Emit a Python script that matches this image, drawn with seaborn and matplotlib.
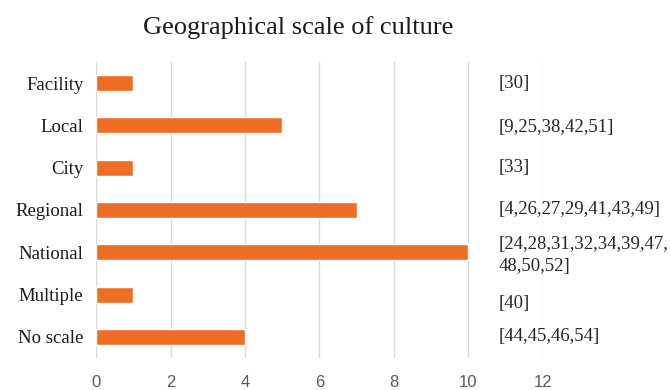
import matplotlib
matplotlib.use("Agg")
import matplotlib.pyplot as plt
import seaborn as sns
import pandas as pd

# Geographical scale categories, study counts and the referenced study numbers
categories = ["Facility", "Local", "City", "Regional", "National", "Multiple", "No scale"]
counts = [1, 5, 1, 7, 10, 1, 4]
references = [
    "[30]",
    "[9,25,38,42,51]",
    "[33]",
    "[4,26,27,29,41,43,49]",
    "[24,28,31,32,34,39,47,\n48,50,52]",
    "[40]",
    "[44,45,46,54]",
]
x_ticks = [0, 2, 4, 6, 8, 10, 12]

df = pd.DataFrame({"scale": categories, "count": counts})

sns.set_theme(style="white")
serif = ["Liberation Serif", "DejaVu Serif"]
sans = ["Liberation Sans", "DejaVu Sans"]

fig = plt.figure(figsize=(6.7, 3.9), dpi=100)
ax = fig.add_axes([0.1433, 0.0821, 0.6671, 0.7589])

sns.barplot(data=df, y="scale", x="count", orient="h", color="#EE6E26",
            saturation=1, width=0.38, ax=ax, zorder=3)

ax.set_xlim(0, 12)
ax.set_ylim(6.5, -0.5)
ax.set_xticks(x_ticks)
ax.set_xticklabels([str(t) for t in x_ticks], fontfamily=sans, fontsize=12, color="#595959")
ax.set_yticks(range(len(categories)))
ax.set_yticklabels(categories, fontfamily=serif, fontsize=13.5, color="#1a1a1a")
ax.tick_params(axis="y", length=0, pad=9)
ax.tick_params(axis="x", length=0, pad=12)
ax.set_xlabel("")
ax.set_ylabel("")
ax.grid(axis="x", color="#d9d9d9", linewidth=1.0, zorder=0)
ax.grid(axis="y", visible=False)
for s in ax.spines.values():
    s.set_visible(False)

# Reference lists to the right of the bars
nudge = [0.0, 0.05, 0.0, 0.0, 0.08, 0.22, 0.0]
for i, (ref, dy) in enumerate(zip(references, nudge)):
    ax.text(10.8, i + dy, ref, ha="left", va="center", fontfamily=serif,
            fontsize=13.5, color="#262626", linespacing=1.35, clip_on=False, zorder=4)

fig.text(0.445, 0.93, "Geographical scale of culture", ha="center", va="center",
         fontfamily=serif, fontsize=19, color="#1a1a1a")

fig.savefig("out.png", dpi=100, facecolor="white")
